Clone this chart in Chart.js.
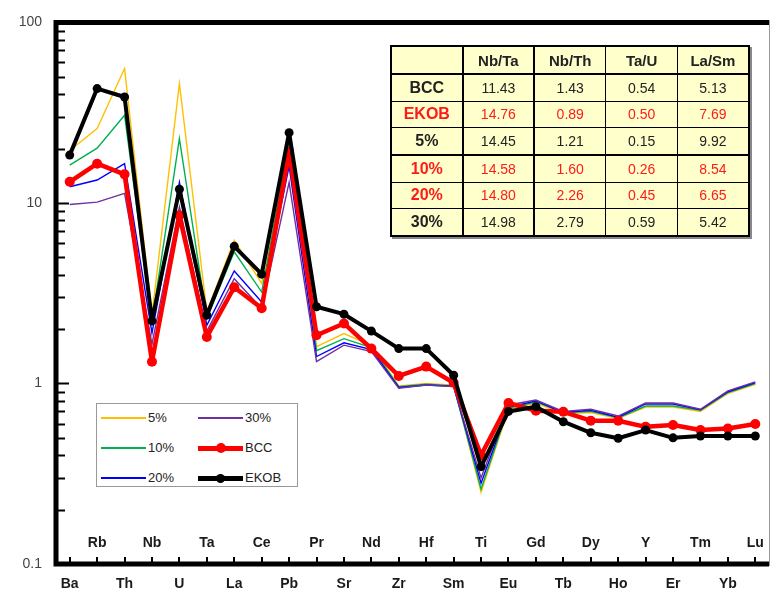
<!DOCTYPE html>
<html lang="en">
<head>
<meta charset="UTF-8">
<title>Spider diagram</title>
<script src="https://cdn.jsdelivr.net/npm/chart.js"></script>
<style>
  * { margin: 0; padding: 0; box-sizing: border-box; }
  body { background: #fff; font-family: Arial, 'Liberation Sans', sans-serif; }
  #wrap { position: relative; width: 774px; height: 597px; }
  #chart { position: absolute; left: 0; top: 0; }
  #ratios { position: absolute; left: 390px; top: 45px; width: 360px; height: 192px; border-collapse: collapse;
            background: #ffffcc; border: 2px solid #000; box-shadow: 2px 2px 0 #888; table-layout: fixed; }
  #ratios td, #ratios th { border: 1px solid #000; text-align: center; font-size: 14px; color: #222; padding: 0; }
  #ratios th { font-size: 16px; font-weight: bold; }
  #ratios tr:first-child th { border-bottom: 2px solid #000; height: 28px; font-size: 15px; }
  #ratios tr:nth-child(4) td, #ratios tr:nth-child(4) th { border-bottom: 2px solid #000; }
  #ratios .c1 { border-left: 2px solid #000; }
  #ratios .c2 { border-left: 2px solid #000; }
  #legend { position: absolute; left: 96px; top: 403px; width: 202px; height: 84px; background: #fff; border: 1.5px solid #999; }
  .item { position: absolute; height: 16px; font-size: 13px; color: #222; line-height: 16px; }
  .item .swatch { position: absolute; left: 0; top: 50%; width: 45px; }
  .item .dot { position: absolute; left: 18px; border-radius: 50%; }
  .item span { position: absolute; left: 47px; top: 0; white-space: nowrap; }
</style>
</head>
<body>
<div id="wrap">
  <canvas id="chart" width="774" height="597"></canvas>
  <table id="ratios"></table>
  <div id="legend"></div>
</div>
<script>
// elements, in diagram order
const categories = ['Ba', 'Rb', 'Th', 'Nb', 'U', 'Ta', 'La', 'Ce', 'Pb', 'Pr', 'Sr', 'Nd', 'Zr',
                    'Hf', 'Sm', 'Ti', 'Eu', 'Gd', 'Tb', 'Dy', 'Ho', 'Y', 'Er', 'Tm', 'Yb', 'Lu'];

// normalised concentrations
const mix5  = [19.5, 25.8, 55.5, 2.4, 45.8, 2.5, 6.2, 3.58, 24, 1.60, 1.89, 1.62, 0.97, 1.0, 0.98, 0.25,
               0.72, 0.78, 0.68, 0.69, 0.64, 0.74, 0.74, 0.70, 0.88, 0.99];
const mix10 = [16.2, 20.1, 30.6, 2.2, 22.7, 2.3, 5.36, 3.21, 22, 1.52, 1.77, 1.58, 0.96, 0.99, 0.97, 0.26,
               0.73, 0.79, 0.69, 0.70, 0.645, 0.75, 0.75, 0.71, 0.89, 1.0];
const mix20 = [12.3, 13.4, 16.5, 1.9, 13, 2.1, 4.2, 2.83, 16, 1.41, 1.68, 1.54, 0.95, 0.98, 0.965, 0.28,
               0.74, 0.80, 0.69, 0.71, 0.65, 0.77, 0.77, 0.715, 0.90, 1.01];
const mix30 = [9.8, 10.1, 11.3, 1.65, 9.5, 1.95, 3.8, 2.6, 13, 1.32, 1.63, 1.50, 0.94, 0.98, 0.96, 0.30,
               0.76, 0.81, 0.70, 0.72, 0.66, 0.78, 0.78, 0.72, 0.91, 1.02];
const bcc   = [13.1, 16.5, 14.4, 1.32, 8.55, 1.81, 3.41, 2.61, 19.2, 1.85, 2.15, 1.56, 1.10, 1.24, 1.01, 0.40,
               0.78, 0.706, 0.697, 0.622, 0.622, 0.575, 0.589, 0.552, 0.563, 0.596];
const ekob  = [18.4, 43, 38.6, 2.22, 11.9, 2.39, 5.75, 4.03, 24.5, 2.66, 2.42, 1.95, 1.56, 1.56, 1.11, 0.346,
               0.70, 0.743, 0.614, 0.533, 0.497, 0.552, 0.50, 0.512, 0.512, 0.512];

const yTickValues = [0.1, 1, 10, 100];
const yTickLabels = ['0.1', '1', '10', '100'];

// ratio table
const tableColumns = ['Nb/Ta', 'Nb/Th', 'Ta/U', 'La/Sm'];
const tableRows = ['BCC', 'EKOB', '5%', '10%', '20%', '30%'];
const tableValues = [
  ['11.43', '1.43', '0.54', '5.13'],
  ['14.76', '0.89', '0.50', '7.69'],
  ['14.45', '1.21', '0.15', '9.92'],
  ['14.58', '1.60', '0.26', '8.54'],
  ['14.80', '2.26', '0.45', '6.65'],
  ['14.98', '2.79', '0.59', '5.42']
];
const tableRowColors = ['#222', '#ff1a1a', '#222', '#ff1a1a', '#ff1a1a', '#222'];

const AXIS_FONT = "Arial, 'Liberation Sans', sans-serif";

function thin(label, data, color, order) {
  return { label, data, borderColor: color, backgroundColor: color, borderWidth: 1.4,
           pointRadius: 0, order, tension: 0 };
}

const datasets = [
  thin('5%', mix5, '#ffc000', 5),
  thin('10%', mix10, '#00b050', 4),
  thin('20%', mix20, '#0000ff', 3),
  thin('30%', mix30, '#7030a0', 2),
  { label: 'BCC', data: bcc, borderColor: '#ff0000', backgroundColor: '#ff0000', borderWidth: 4.5,
    borderJoinStyle: 'round', borderCapStyle: 'round', pointRadius: 5, pointBorderWidth: 0, order: 1 },
  { label: 'EKOB', data: ekob, borderColor: '#000', backgroundColor: '#000', borderWidth: 4,
    borderJoinStyle: 'round', borderCapStyle: 'round', pointRadius: 4.5, pointBorderWidth: 0, order: 0 }
];

// frame, inward ticks and the upper row of element names
const frame = {
  id: 'frame',
  afterDraw(chart) {
    const ctx = chart.ctx;
    const a = chart.chartArea;
    const x = chart.scales.x, y = chart.scales.y;
    ctx.save();
    ctx.strokeStyle = '#000';
    ctx.lineCap = 'butt';
    // y ticks
    ctx.lineWidth = 2;
    for (let d = 0.1; d < 100; d *= 10) {
      for (let k = 2; k <= 9; k++) {
        const py = Math.round(y.getPixelForValue(d * k)) + 0.5;
        ctx.beginPath(); ctx.moveTo(a.left, py); ctx.lineTo(a.left + 9, py); ctx.stroke();
      }
    }
    yTickValues.forEach(v => {
      const py = Math.round(y.getPixelForValue(v)) + 0.5;
      ctx.beginPath(); ctx.moveTo(a.left, py); ctx.lineTo(a.left + 13, py); ctx.stroke();
    });
    // x ticks
    categories.forEach((c, i) => {
      const px = Math.round(x.getPixelForValue(i));
      ctx.beginPath(); ctx.moveTo(px, a.bottom); ctx.lineTo(px, a.bottom - 7); ctx.stroke();
    });
    // border
    ctx.lineWidth = 5;
    ctx.beginPath();
    ctx.moveTo(a.right, a.top); ctx.lineTo(a.left, a.top); ctx.lineTo(a.left, a.bottom); ctx.lineTo(a.right, a.bottom);
    ctx.stroke();
    ctx.lineWidth = 1;
    ctx.strokeStyle = '#999';
    ctx.beginPath(); ctx.moveTo(a.right + 0.5, a.top - 2); ctx.lineTo(a.right + 0.5, a.bottom + 2); ctx.stroke();
    // odd element names sit inside the plot
    ctx.fillStyle = '#1a1a1a';
    ctx.font = 'bold 14px ' + AXIS_FONT;
    ctx.textAlign = 'center';
    ctx.textBaseline = 'middle';
    categories.forEach((c, i) => {
      if (i % 2 === 1) ctx.fillText(c, x.getPixelForValue(i), a.bottom - 21);
    });
    ctx.restore();
  }
};

const chart = new Chart(document.getElementById('chart'), {
  type: 'line',
  data: { labels: categories, datasets },
  options: {
    responsive: false,
    animation: false,
    layout: { padding: { top: 22, right: 2, left: 0, bottom: 0 } },
    plugins: { legend: { display: false }, tooltip: { enabled: false } },
    scales: {
      x: {
        type: 'category',
        offset: true,
        grid: { display: false, drawTicks: false },
        border: { display: false },
        afterFit: s => { s.height = 33; },
        ticks: {
          autoSkip: false, maxRotation: 0, padding: 12, color: '#1a1a1a',
          font: { family: AXIS_FONT, size: 14, weight: 'bold' },
          callback: (v, i) => i % 2 === 0 ? categories[i] : ''
        }
      },
      y: {
        type: 'logarithmic',
        min: 0.1, max: 100,
        grid: { display: false, drawTicks: false },
        border: { display: false },
        afterFit: s => { s.width = 56; },
        afterBuildTicks: s => { s.ticks = yTickValues.map(v => ({ value: v })); },
        ticks: {
          padding: 14, color: '#444',
          font: { family: AXIS_FONT, size: 14 },
          callback: v => yTickLabels[yTickValues.indexOf(v)]
        }
      }
    }
  },
  plugins: [frame]
});

// table
const table = document.getElementById('ratios');
let html = '<tr><th></th>' + tableColumns.map((c, j) => `<th class="c${j + 1}">${c}</th>`).join('') + '</tr>';
tableRows.forEach((r, i) => {
  const col = tableRowColors[i];
  html += `<tr><th style="color:${col}">${r}</th>` +
    tableValues[i].map((v, j) => `<td class="c${j + 1}" style="color:${col}">${v}</td>`).join('') + '</tr>';
});
table.innerHTML = html;

// legend, two columns, built from the datasets
const legend = document.getElementById('legend');
chart.data.datasets.forEach((ds, i) => {
  const col = Math.floor(i / 3), row = i % 3;
  const item = document.createElement('div');
  item.className = 'item';
  item.style.left = (col ? 101 : 4) + 'px';
  item.style.top = (6 + row * 30) + 'px';
  const thick = ds.borderWidth > 2;
  const lw = thick ? 5 : 2.5;
  let inner = `<div class="swatch" style="height:${lw}px;margin-top:${-lw / 2}px;background:${ds.borderColor}"></div>`;
  if (thick) {
    const r = ds.pointRadius;
    inner += `<div class="dot" style="width:${2 * r}px;height:${2 * r}px;top:${8 - r}px;background:${ds.borderColor}"></div>`;
  }
  inner += `<span>${ds.label}</span>`;
  item.innerHTML = inner;
  legend.appendChild(item);
});
</script>
</body>
</html>
